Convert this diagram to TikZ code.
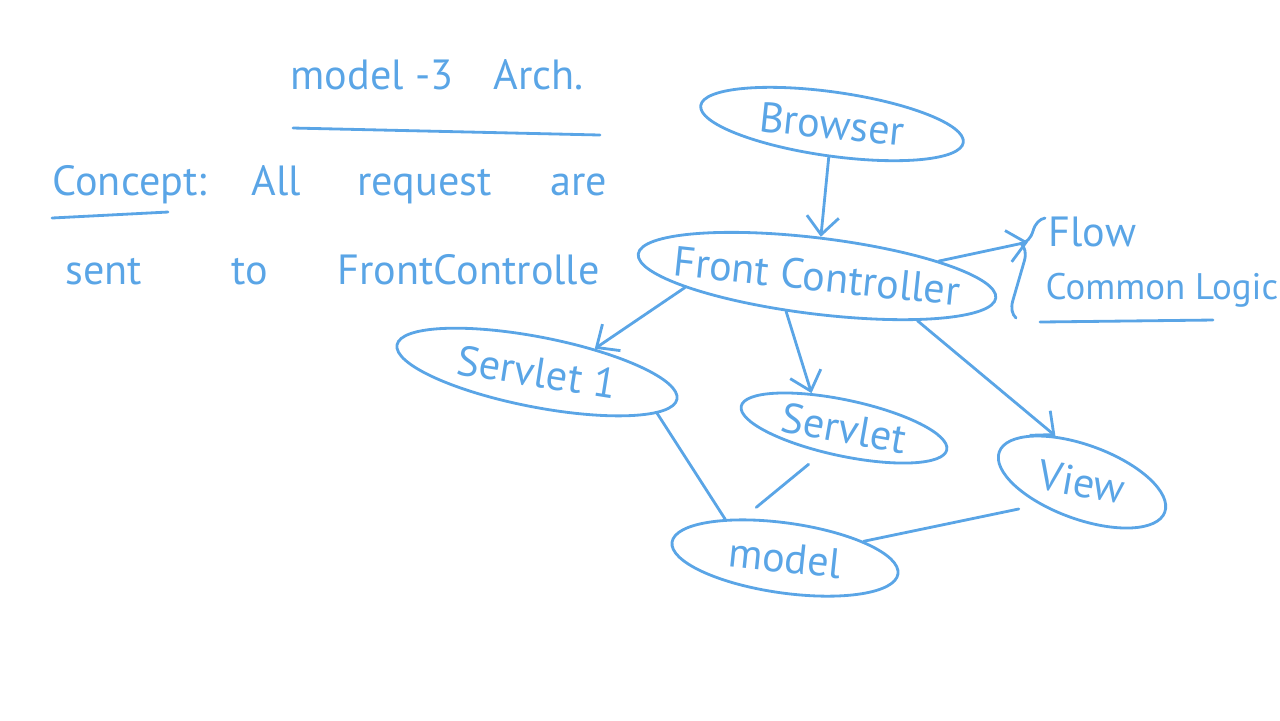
\documentclass[tikz,border=0pt]{standalone}
\usepackage{fontspec}
\setmainfont{PT Sans}
\definecolor{inkblue}{HTML}{5AA5E6}
\usetikzlibrary{arrows.meta, shapes.geometric, decorations.pathreplacing}

\begin{document}
\begin{tikzpicture}[x=0.01cm, y=0.01cm,
  every node/.style={text=inkblue, font=\fontsize{12}{14}\selectfont},
  note/.style={anchor=west, inner xsep=0pt},
  bubble/.style={ellipse, draw=inkblue, line width=0.8pt, inner sep=0pt},
  ink/.style={draw=inkblue, line width=0.8pt, line cap=round},
  flow/.style={ink, -{Straight Barb[length=1.8mm, width=3.2mm]}},
]
  \useasboundingbox (0,0) rectangle (1280,-720);

  % Notes - left side
  \node[note] (title) at (290,-75) {model -3\hspace{0.4cm}Arch.};
  \draw[ink] (293,-128) -- (600,-135);
  \node[note] (line1) at (52,-185) {Concept:\hspace{0.45cm}All\hspace{0.56cm}request\hspace{0.59cm}are};
  \draw[ink] (52,-218) -- (168,-212);
  \node[note] (line2) at (65,-270) {sent\hspace{0.89cm}to\hspace{0.7cm}FrontControlle};

  % Bubbles
  \node[bubble, minimum width=2.65cm, minimum height=0.64cm, rotate=-8,
        label={[rotate=-6]center:Browser}] (bro) at (832,-124) {};
  \node[bubble, minimum width=3.6cm, minimum height=0.76cm, rotate=-7,
        label={[rotate=-6]center:Front Controller}] (fc) at (817,-276) {};
  \node[bubble, minimum width=2.85cm, minimum height=0.7cm, rotate=-11,
        label={[rotate=-9]center:Servlet 1}] (s1) at (537,-372) {};
  \node[bubble, minimum width=2.1cm, minimum height=0.56cm, rotate=-12,
        label={[rotate=-10]center:Servlet}] (srv) at (844,-428) {};
  \node[bubble, minimum width=1.76cm, minimum height=0.74cm, rotate=-20,
        label={[rotate=-10]center:View}] (view) at (1082,-482) {};
  \node[bubble, minimum width=2.28cm, minimum height=0.7cm, rotate=-8,
        label={[rotate=-6]center:model}] (md) at (785,-558) {};

  % Flow / Common Logic
  \node[note] (flw) at (1048,-232) {Flow};
  \node[note, font=\fontsize{10.5}{13}\selectfont] (cml) at (1045,-290) {Common Logic};
  \draw[ink] (1040,-322) -- (1213,-320);
  \coordinate (brbot) at (1016,-318);
  \coordinate (brtop) at (1045,-218);
  \coordinate (brtip) at (1028,-242);
  \draw[ink, decorate, decoration={brace, amplitude=4.5pt, aspect=0.7}] (brbot) -- (brtop);

  % Arrows
  \draw[flow] (bro) -- (fc);
  \draw[flow] (fc.14) -- (brtip);
  \draw[flow] (fc.192) -- (s1.33);
  \draw[flow] (fc.236) -- (srv.145);
  \draw[flow] (fc.343) -- (view.140);

  % Lines to model
  \draw[ink] (s1.352) -- (md.155);
  \draw[ink, shorten <=5pt, shorten >=5pt] (srv.241) -- (md.145);
  \draw[ink, shorten >=6pt] (md.20) -- (view.228);
\end{tikzpicture}
\end{document}
